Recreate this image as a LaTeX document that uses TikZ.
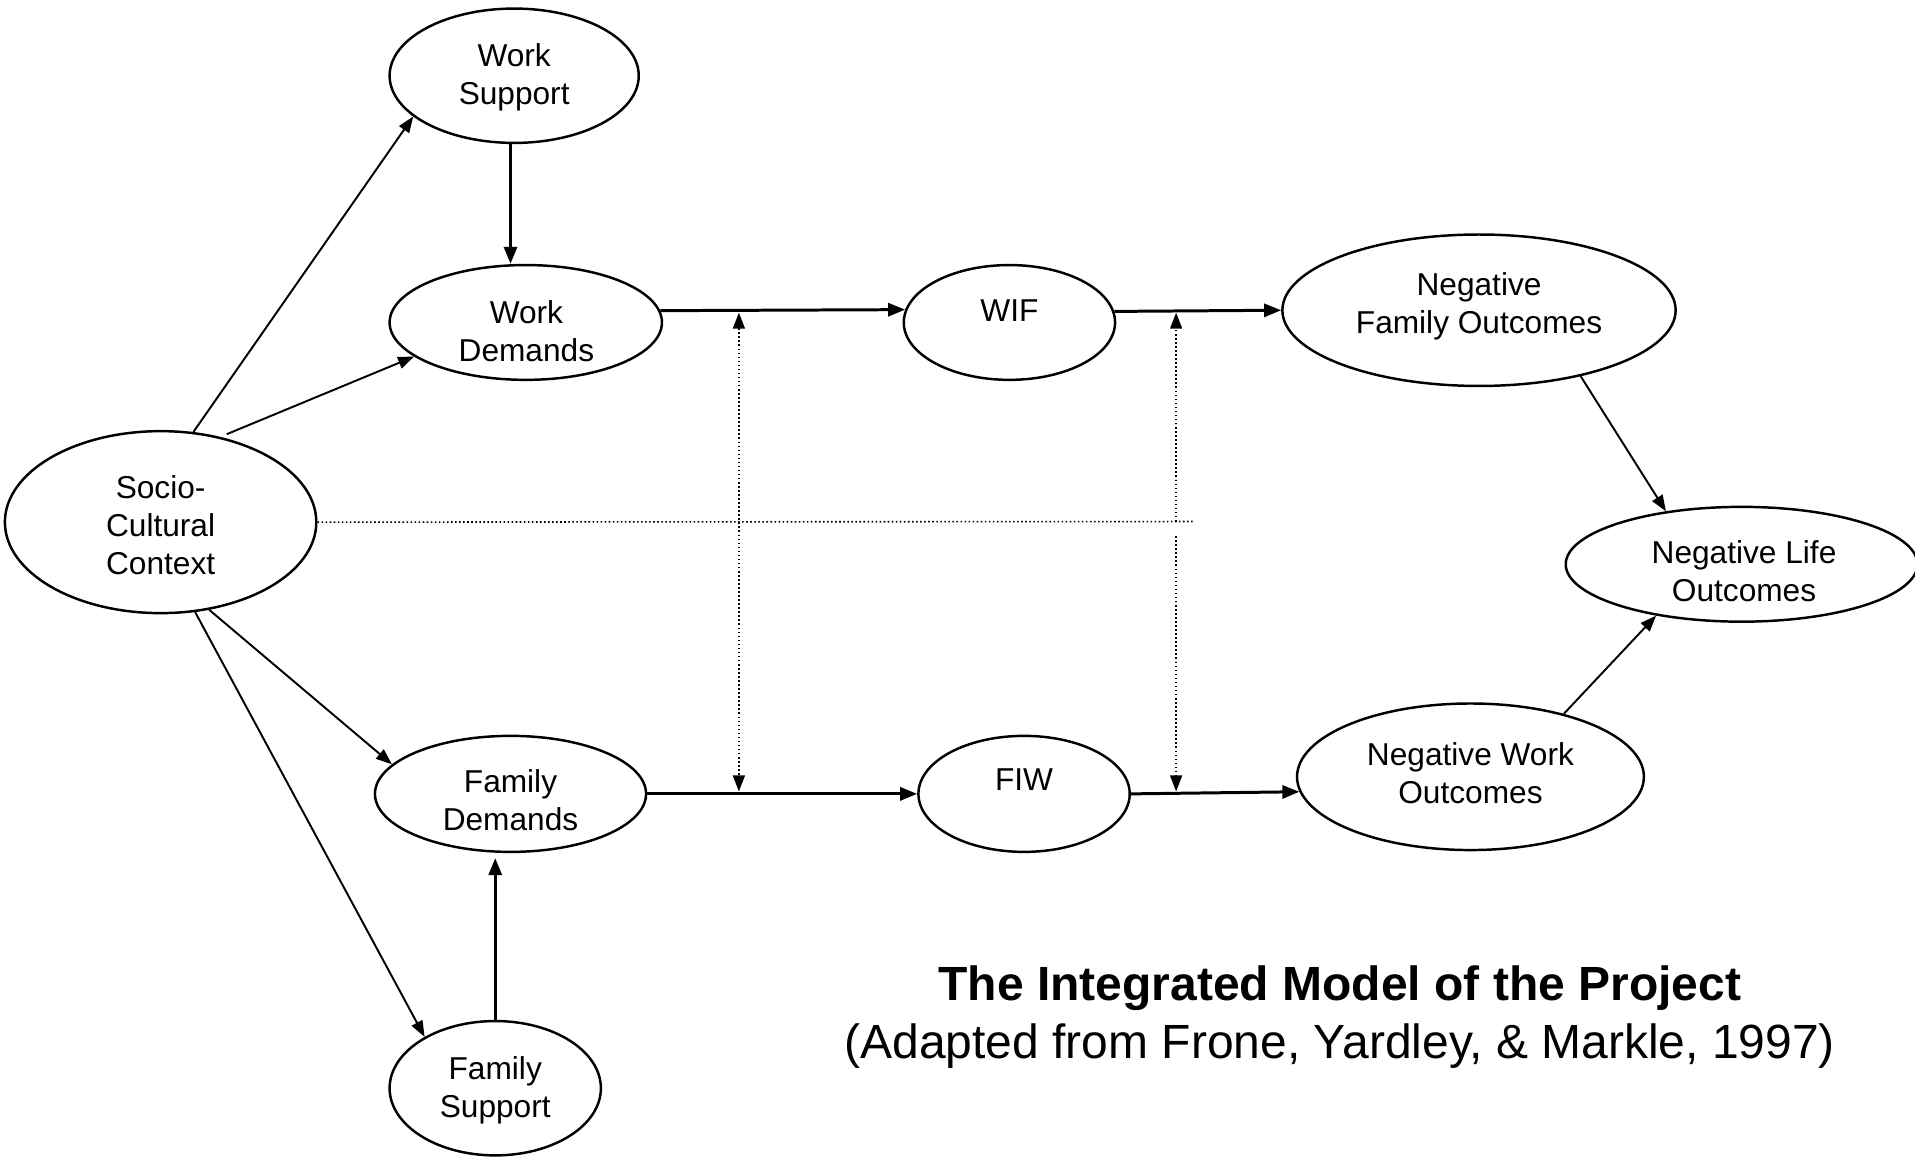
\documentclass[tikz,border=0pt]{standalone}
\usepackage{fontspec}
\setmainfont{Liberation Sans}
\usetikzlibrary{shapes.geometric,arrows.meta}
\begin{document}
\begin{tikzpicture}[x=0.012213cm,y=-0.012213cm,
  ell/.style 2 args={ellipse,draw,line width=0.7pt,minimum width=#1*0.012213cm,minimum height=#2*0.012213cm,inner sep=0pt},
  lbl/.style={align=center,font=\fontsize{9}{10.8}\selectfont,inner sep=0pt},
  arr/.style={line width=0.55pt,-{Triangle[length=0.16cm,width=0.12cm]}},
  harr/.style={line width=0.85pt,-{Triangle[length=0.17cm,width=0.13cm]}},
  dotln/.style={line width=0.45pt,dash pattern=on 0.45pt off 0.7pt},
  dtip/.tip={Triangle[length=0.16cm,width=0.12cm]}]
\useasboundingbox (0,0) rectangle (1568,946.6);
% nodes
\node[ell={204}{110}] (ws) at (421,62) {};
\node[lbl] (wst) at (421,63) {Work\\Support};
\node[ell={223}{94}] (wd) at (430.5,264) {};
\node[lbl] (wdt) at (431,271) {Work\\Demands};
\node[ell={173}{94}] (wif) at (826.5,264) {};
\node[lbl] (wift) at (826.5,254) {WIF};
\node[ell={322}{124}] (nfo) at (1211,254) {};
\node[lbl] (nfot) at (1211,251) {Negative\\Family Outcomes};
\node[ell={288}{94}] (nlo) at (1426,462) {};
\node[lbl] (nlot) at (1428,468) {Negative Life\\Outcomes};
\node[ell={255}{149}] (sc) at (131.5,427.5) {};
\node[lbl] (sct) at (131.5,430) {Socio-\\Cultural\\Context};
\node[ell={222}{95}] (fd) at (418,650) {};
\node[lbl] (fdt) at (418,655) {Family\\Demands};
\node[ell={173}{95}] (fiw) at (838.5,650) {};
\node[lbl] (fiwt) at (838.5,638) {FIW};
\node[ell={284}{120}] (nwo) at (1204,636) {};
\node[lbl] (nwot) at (1204,633) {Negative Work\\Outcomes};
\node[ell={173}{110}] (fs) at (405.5,891) {};
\node[lbl] (fst) at (405.5,893) {Family\\Support};
% caption
\node[font=\fontsize{13.65}{16}\selectfont\bfseries,anchor=base,inner sep=0pt] (title) at (1097,819) {The Integrated Model of the Project};
\node[font=\fontsize{13.65}{16}\selectfont,anchor=base,inner sep=0pt] (sub) at (1097,867) {(Adapted from Frone, Yardley, \& Markle, 1997)};
% connectors
\draw[arr] (sc.70) -- (ws.202.6);
\draw[arr,shorten <=0.07cm] (sc.55) -- (wd.197.4);
\draw[arr] (sc.-61.8) -- (fd.166.6);
\draw[arr] (sc.-69.1) -- (fs.144.8);
\coordinate (wsx) at (418,0);
\draw[harr] (ws.south -| wsx) -- (wd.north -| wsx);
\draw[harr,shorten >=0.05cm] (fs.north) -- (fd.south -| fs.north);
\draw[harr] (wd.5.2) -- (wif.173.2);
\draw[harr] (wif.6.75) -- (nfo.west);
\draw[harr] (fd.east) -- (fiw.west);
\draw[harr] (fiw.east) -- (nwo.185.8);
\draw[arr] (nfo.-33.2) -- (nlo.145.1);
\draw[arr] (nwo.34.8) -- (nlo.211.2);
% dotted links
\coordinate (v1t) at (605,256);
\coordinate (v1b) at (605,648);
\draw[dotln,dtip-dtip] (v1t) -- (v1b);
\coordinate (hend) at (976.5,427);
\draw[dotln] (sc.east) -- (hend);
\coordinate (v2a) at (963,427);
\coordinate (v2t) at (963,256);
\coordinate (v2c) at (963,439);
\coordinate (v2b) at (963,648);
\draw[dotln,-dtip] (v2a) -- (v2t);
\draw[dotln,-dtip] (v2c) -- (v2b);
\end{tikzpicture}
\end{document}
